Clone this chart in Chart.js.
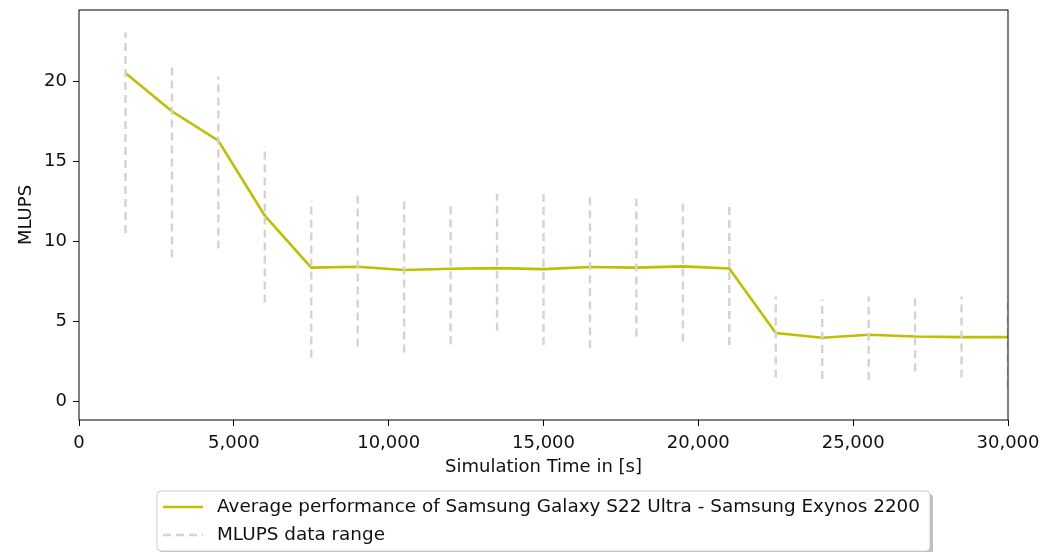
<!DOCTYPE html>
<html>
<head>
<meta charset="utf-8">
<script src="https://cdn.jsdelivr.net/npm/chart.js@4.4.1/dist/chart.umd.min.js"></script>
<style>
  html, body { margin: 0; padding: 0; background: #fff; }
  #wrap { width: 1053px; height: 552px; position: relative; }
</style>
</head>
<body>
<div id="wrap"><canvas id="perf-chart"></canvas></div>
<script>
const times = [1500, 3000, 4500, 6000, 7500, 9000, 10500, 12000, 13500, 15000,
               16500, 18000, 19500, 21000, 22500, 24000, 25500, 27000, 28500, 30000];
const avgMlups = [20.54, 18.15, 16.31, 11.63, 8.38, 8.44, 8.23, 8.31, 8.35, 8.29,
                  8.42, 8.38, 8.46, 8.33, 4.29, 4.00, 4.19, 4.08, 4.04, 4.04];
const minMlups = [10.54, 9.02, 9.58, 6.21, 2.77, 3.46, 3.08, 3.60, 4.44, 3.54,
                  3.35, 4.08, 3.77, 3.54, 1.52, 1.42, 1.38, 1.90, 1.52, 0.85];
const maxMlups = [23.08, 21.06, 20.33, 15.96, 12.56, 12.98, 12.56, 12.50, 12.98, 12.98,
                  12.92, 12.98, 12.67, 12.42, 6.58, 6.38, 6.58, 6.58, 6.58, 6.58];
const xTicks = [0, 5000, 10000, 15000, 20000, 25000, 30000];
const yTicks = [0, 5, 10, 15, 20];

const avgLabel = "Average performance of Samsung Galaxy S22 Ultra - Samsung Exynos 2200";
const rangeLabel = "MLUPS data range";

const fontFamily = "'DejaVu Sans', sans-serif";
const lineColor = "#bfbf00";
const rangeColor = "#d3d3d3";

// error bars as one dashed line with gaps
let rangeData = [];
times.forEach((t, i) => {
    rangeData.push({x: t, y: minMlups[i]}, {x: t, y: maxMlups[i]}, {x: t, y: null});
});
let avgData = times.map((t, i) => ({x: t, y: avgMlups[i]}));

// frame round the plot + matplotlib style legend under it
const framePlugin = {
    id: "frame",
    afterDatasetsDraw(chart) {
        const {ctx, chartArea: a} = chart;
        ctx.save();
        ctx.strokeStyle = "#000";
        ctx.lineWidth = 1;
        ctx.strokeRect(a.left, a.top, a.right - a.left, a.bottom - a.top);
        ctx.restore();
    },
    afterDraw(chart) {
        const {ctx, chartArea: a} = chart;
        ctx.save();
        ctx.font = "18.4px " + fontFamily;
        const w = Math.max(ctx.measureText(avgLabel).width, ctx.measureText(rangeLabel).width);
        const boxW = w + 70;
        const boxL = (a.left + a.right) / 2 - boxW / 2;
        const boxT = 491, boxH = 60;

        // shadow
        ctx.fillStyle = "rgba(128,128,128,0.5)";
        ctx.beginPath();
        ctx.roundRect(boxL + 3, boxT + 3, boxW, boxH, 4);
        ctx.fill();
        // box
        ctx.fillStyle = "#fff";
        ctx.strokeStyle = "#cccccc";
        ctx.lineWidth = 1;
        ctx.beginPath();
        ctx.roundRect(boxL, boxT, boxW, boxH, 4);
        ctx.fill();
        ctx.stroke();

        const rows = [
            {label: avgLabel, color: lineColor, dash: [], y: 507},
            {label: rangeLabel, color: rangeColor, dash: [8, 5], y: 535}
        ];
        rows.forEach(r => {
            ctx.strokeStyle = r.color;
            ctx.lineWidth = 2.6;
            ctx.setLineDash(r.dash);
            ctx.beginPath();
            ctx.moveTo(boxL + 6, r.y);
            ctx.lineTo(boxL + 46, r.y);
            ctx.stroke();
            ctx.setLineDash([]);
            ctx.fillStyle = "#111";
            ctx.textBaseline = "middle";
            ctx.fillText(r.label, boxL + 60, r.y);
        });
        ctx.restore();
    }
};

const perfConf = {
    type: "line",
    data: {
        datasets: [{
            label: avgLabel,
            data: avgData,
            borderColor: lineColor,
            borderWidth: 2.6,
            pointRadius: 0,
            tension: 0,
            order: 2
        }, {
            label: rangeLabel,
            data: rangeData,
            borderColor: rangeColor,
            borderWidth: 2.4,
            borderDash: [8, 5],
            pointRadius: 0,
            spanGaps: false,
            order: 1
        }]
    },
    options: {
        responsive: true,
        maintainAspectRatio: false,
        animation: false,
        layout: {
            padding: {left: 0, top: 10, right: 45, bottom: 70}
        },
        plugins: {
            legend: {display: false},
            tooltip: {enabled: false}
        },
        scales: {
            x: {
                type: "linear",
                min: 0,
                max: 30000,
                afterBuildTicks: (scale) => { scale.ticks = xTicks.map(v => ({value: v})); },
                afterFit: (scale) => { scale.height = 62; },
                border: {display: false},
                grid: {drawOnChartArea: false, drawTicks: true, tickLength: 6, color: "#000"},
                ticks: {
                    color: "#111",
                    padding: 7,
                    maxRotation: 0,
                    font: {family: fontFamily, size: 18},
                    callback: (v) => v.toLocaleString("en-US")
                },
                title: {
                    display: true,
                    text: "Simulation Time in [s]",
                    color: "#111",
                    padding: {bottom: 4},
                    font: {family: fontFamily, size: 18}
                }
            },
            y: {
                type: "linear",
                min: -1.14,
                max: 24.48,
                afterBuildTicks: (scale) => { scale.ticks = yTicks.map(v => ({value: v})); },
                afterFit: (scale) => {
                    scale.width = 79;
                    scale.paddingTop = 0;
                    scale.paddingBottom = 0;
                },
                border: {display: false},
                grid: {drawOnChartArea: false, drawTicks: true, tickLength: 6, color: "#000"},
                ticks: {
                    color: "#111",
                    padding: 6,
                    font: {family: fontFamily, size: 18}
                },
                title: {
                    display: true,
                    text: "MLUPS",
                    color: "#111",
                    padding: {top: 16},
                    font: {family: fontFamily, size: 18}
                }
            }
        }
    },
    plugins: [framePlugin]
};

const perfChart = new Chart(document.getElementById("perf-chart"), perfConf);
</script>
</body>
</html>
